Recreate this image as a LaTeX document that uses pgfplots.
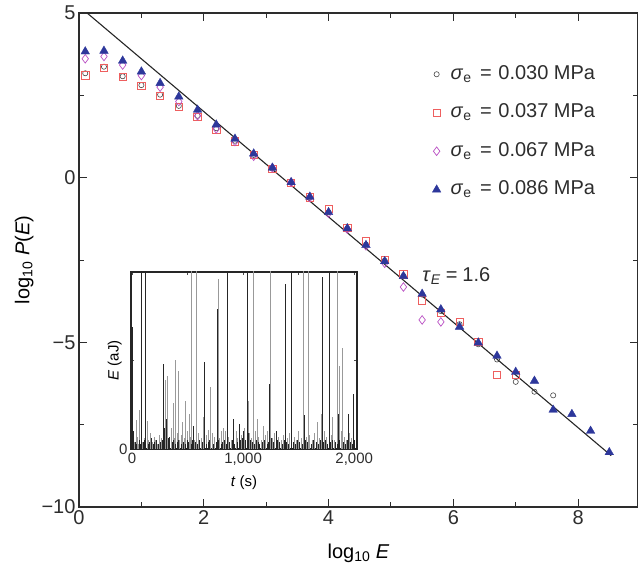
\documentclass[border=0pt]{standalone}
\usepackage{pgfplots}
\pgfplotsset{compat=1.18}
\usepackage{fontspec}
\setmainfont{Liberation Sans}
\definecolor{axgray}{RGB}{45,45,45}
\definecolor{cC}{RGB}{70,70,70}
\definecolor{cS}{RGB}{238,95,95}
\definecolor{cD}{RGB}{185,80,195}
\definecolor{cT}{RGB}{45,55,155}
\newcommand{\mainfont}{\fontsize{20}{23}\selectfont}
\newcommand{\insetfont}{\fontsize{15}{17}\selectfont}
\newcommand{\sig}[1]{{\mainfont\textit{σ}\textsubscript{e}\hspace{0.15em} = \hspace{0.05em}#1 MPa}}
\begin{document}
\begin{tikzpicture}
\begin{axis}[
  at={(0pt,0pt)}, anchor=south west,
  scale only axis, width=559pt, height=494pt,
  xmin=0, xmax=8.96, ymin=-10, ymax=5,
  axis line style={line width=1.3pt, color=axgray},
  tick style={line width=1pt, color=axgray},
  tick align=inside,
  major tick length=8pt, minor tick length=5pt,
  xtick={0,2,4,6,8}, minor xtick={1,3,5,7},
  ytick={-10,-5,0,5}, minor ytick={-7.5,-2.5,2.5},
  xticklabels={0,2,4,6,8},
  yticklabels={−10,−5,0,5},
  tick label style={font=\mainfont, color=axgray},
  xlabel={log\textsubscript{10} \textit{E}},
  xlabel style={font=\mainfont, at={(axis description cs:0.5,0)}, anchor=base, yshift=-51pt},
  ylabel={log\textsubscript{10} \textit{P}(\textit{E})},
  ylabel style={font=\mainfont, at={(axis description cs:-0.098,0.5)}, anchor=center},
  legend style={at={(axis cs:5.66,3.45)}, anchor=north west, draw=none, fill=none,
    font=\mainfont, row sep=18.5pt, inner sep=0pt,
    nodes={text height=15pt, text depth=5pt, inner sep=0pt, anchor=base west, text=axgray}},
  legend cell align=left,
  legend image code/.code={\path[draw=none,fill=none] (0pt,5pt) -- (18pt,5pt); \draw[#1] plot coordinates {(4pt,5pt)};},
]
\addplot[only marks, mark=o, mark size=2.6pt, draw=cC, line width=0.6pt] coordinates {
(0.1,3.17)(0.4,3.37)(0.7,3.08)(1.0,2.81)(1.3,2.52)(1.6,2.18)(1.9,1.88)(2.2,1.50)(2.5,1.12)
(2.8,0.69)(3.1,0.28)(3.4,-0.15)(3.7,-0.60)(4.0,-1.05)(4.3,-1.54)(4.6,-2.03)(4.9,-2.52)
(5.2,-2.98)(5.5,-3.55)(5.8,-4.05)(6.1,-4.45)(6.4,-5.06)(6.7,-5.52)(7.0,-6.20)(7.3,-6.50)(7.6,-6.61)};
\addlegendentry{\sig{0.030}}
\addplot[only marks, mark=square, mark size=3.7pt, draw=cS, line width=0.7pt] coordinates {
(0.1,3.11)(0.4,3.34)(0.7,3.06)(1.0,2.78)(1.3,2.49)(1.6,2.15)(1.9,1.85)(2.2,1.46)(2.5,1.10)
(2.8,0.69)(3.1,0.27)(3.4,-0.15)(3.7,-0.60)(4.0,-0.95)(4.3,-1.52)(4.6,-1.92)(4.9,-2.50)
(5.2,-2.94)(5.5,-3.73)(5.8,-4.10)(6.1,-4.38)(6.4,-4.98)(6.7,-5.98)(7.0,-5.99)};
\addlegendentry{\sig{0.037}}
\addplot[only marks, mark=diamond, mark size=4.3pt, draw=cD, line width=0.7pt] coordinates {
(0.1,3.61)(0.4,3.68)(0.7,3.42)(1.0,3.10)(1.3,2.75)(1.6,2.31)(1.9,1.88)(2.2,1.48)(2.5,1.10)
(2.8,0.65)(3.1,0.30)(3.4,-0.14)(3.7,-0.60)(4.0,-1.08)(4.3,-1.56)(4.6,-2.07)(4.9,-2.60)
(5.2,-3.32)(5.5,-4.32)(5.8,-4.38)};
\addlegendentry{\sig{0.067}}
\addplot[only marks, mark=triangle*, mark size=5pt, draw=cT, fill=cT, line width=0.3pt] coordinates {
(0.1,3.83)(0.4,3.85)(0.7,3.55)(1.0,3.22)(1.3,2.87)(1.6,2.46)(1.9,2.06)(2.2,1.61)(2.5,1.18)
(2.8,0.73)(3.1,0.30)(3.4,-0.14)(3.7,-0.58)(4.0,-1.05)(4.3,-1.54)(4.6,-2.05)(4.9,-2.54)
(5.2,-2.99)(5.5,-3.53)(5.8,-4.00)(6.1,-4.53)(6.4,-5.01)(6.7,-5.41)(7.0,-5.90)(7.3,-6.17)
(7.6,-7.05)(7.9,-7.18)(8.2,-7.69)(8.5,-8.34)};
\addlegendentry{\sig{0.086}}
\addplot[black!85, line width=1.1pt, forget plot] coordinates {(0.13,5.0)(8.53,-8.44)};
\node[anchor=west, inner sep=0pt, font=\mainfont, text=axgray] at (axis cs:5.5,-2.98) {\textit{τ}\textsubscript{\textit{E}}\hspace{0.25em}=\hspace{0.25em}1.6};
\end{axis}
\begin{axis}[
  at={(52pt,58pt)}, anchor=south west,
  scale only axis, width=226pt, height=177pt,
  xmin=-9, xmax=2025, ymin=0, ymax=1,
  axis background/.style={fill=white},
  axis line style={line width=1.3pt, color=black!85},
  tick style={line width=0.6pt, color=black!70},
  tick align=inside, major tick length=3pt,
  xtick={0,500,1000,1500,2000}, xticklabels={0,,{1,000},,{2,000}},
  ytick={0,0.5,1}, yticklabels={0,,},
  tick label style={font=\insetfont, color=axgray},
  xlabel={\textit{t} (s)},
  xlabel style={font=\insetfont, at={(axis description cs:0.5,0)}, anchor=center, yshift=-34pt},
  ylabel={\textit{E} (aJ)},
  ylabel style={font=\insetfont, at={(axis description cs:-0.072,0.5)}, anchor=center},
]
\addplot[ycomb, no marks, color=black!40, line width=0.75pt] coordinates {
(39,0.165)(69,0.22)(138,0.16)(300,0.39)(318,0.41)(369,0.26)(394,0.50)(421,0.44)(453,0.15)
(484,0.27)(514,0.20)(535,1.3)(580,1.3)(640,0.18)(709,0.35)(727,0.09)(775,0.96)(805,0.10)(838,0.10)
(1045,0.27)(1096,1.3)(1126,0.17)(1180,0.13)(1246,1.3)(1541,1.3)(1586,1.3)(1667,0.15)(1703,0.20)
(1802,0.18)(1847,1.3)(1862,0.47)(1892,0.57)
(10,0.05)(25,0.04)(48,0.07)(58,0.03)(95,0.04)(108,0.06)(150,0.05)(165,0.09)(180,0.04)(198,0.07)
(212,0.05)(230,0.03)(245,0.08)(260,0.06)(290,0.10)(335,0.07)(350,0.12)(380,0.06)(410,0.09)
(430,0.05)(445,0.08)(470,0.06)(500,0.10)(525,0.07)(560,0.05)(600,0.09)(620,0.06)(665,0.08)
(690,0.11)(720,0.05)(745,0.07)(790,0.06)(820,0.12)(870,0.07)(890,0.05)(935,0.10)(950,0.06)
(985,0.08)(1010,0.12)(1060,0.09)(1075,0.06)(1110,0.10)(1140,0.07)(1160,0.05)(1200,0.08)
(1220,0.10)(1260,0.06)(1280,0.09)(1320,0.07)(1345,0.05)(1360,0.08)(1400,0.06)(1420,0.09)
(1460,0.07)(1480,0.05)(1500,0.10)(1520,0.06)(1570,0.07)(1600,0.08)(1625,0.05)(1645,0.09)
(1690,0.06)(1730,0.10)(1750,0.07)(1790,0.08)(1820,0.05)(1880,0.10)(1910,0.07)(1930,0.05)
(1960,0.09)(1975,0.06)(1995,0.08)};
\addplot[ycomb, no marks, color=black!85, line width=0.75pt] coordinates {
(0,0.69)(5,0.14)(84,1.3)(123,1.3)(279,0.48)(305,0.17)(550,0.13)(655,0.49)(769,0.79)(856,1.3)
(916,0.17)(964,0.14)(1042,1.3)(1237,0.37)(1300,0.10)(1381,0.93)(1435,1.3)(1553,0.19)(1712,0.97)
(1772,0.66)(1778,1.3)(1856,0.20)(1946,0.20)(1988,0.31)
(3,0.12)(8,0.10)(15,0.06)(30,0.04)(40,0.03)(65,0.05)(75,0.03)(100,0.04)(115,0.05)(145,0.03)
(160,0.04)(175,0.06)(190,0.03)(205,0.04)(220,0.05)(240,0.03)(255,0.04)(270,0.05)(285,0.08)
(295,0.12)(310,0.09)(325,0.06)(340,0.07)(360,0.04)(375,0.05)(390,0.03)(405,0.04)(420,0.05)
(440,0.03)(460,0.04)(480,0.03)(495,0.05)(510,0.04)(530,0.03)(545,0.05)(570,0.04)(590,0.03)
(610,0.05)(630,0.04)(650,0.06)(670,0.03)(685,0.04)(700,0.05)(730,0.03)(755,0.04)(780,0.05)
(800,0.03)(815,0.04)(830,0.05)(850,0.03)(880,0.04)(900,0.05)(925,0.03)(945,0.04)(975,0.05)
(995,0.06)(1005,0.10)(1020,0.05)(1035,0.04)(1050,0.09)(1065,0.05)(1085,0.04)(1100,0.03)
(1120,0.05)(1135,0.04)(1150,0.03)(1175,0.04)(1195,0.05)(1215,0.03)(1230,0.04)(1250,0.06)
(1270,0.04)(1295,0.03)(1310,0.05)(1330,0.04)(1350,0.03)(1370,0.05)(1390,0.04)(1410,0.03)
(1430,0.06)(1450,0.04)(1470,0.03)(1490,0.05)(1510,0.04)(1530,0.03)(1560,0.05)(1580,0.04)
(1610,0.03)(1630,0.05)(1655,0.04)(1675,0.03)(1695,0.05)(1720,0.04)(1740,0.05)(1760,0.03)
(1785,0.04)(1805,0.05)(1830,0.04)(1850,0.03)(1870,0.05)(1900,0.04)(1920,0.03)(1940,0.05)
(1965,0.04)(1985,0.03)(2000,0.05)};
\node[anchor=east, font=\mainfont, text=axgray, xshift=-13pt, yshift=12pt] at (rel axis cs:0,1) {10\textsuperscript{6}};
\end{axis}
\pgfresetboundingbox
\useasboundingbox (-79pt,-56pt) rectangle (559pt,507pt);
\end{tikzpicture}
\end{document}
